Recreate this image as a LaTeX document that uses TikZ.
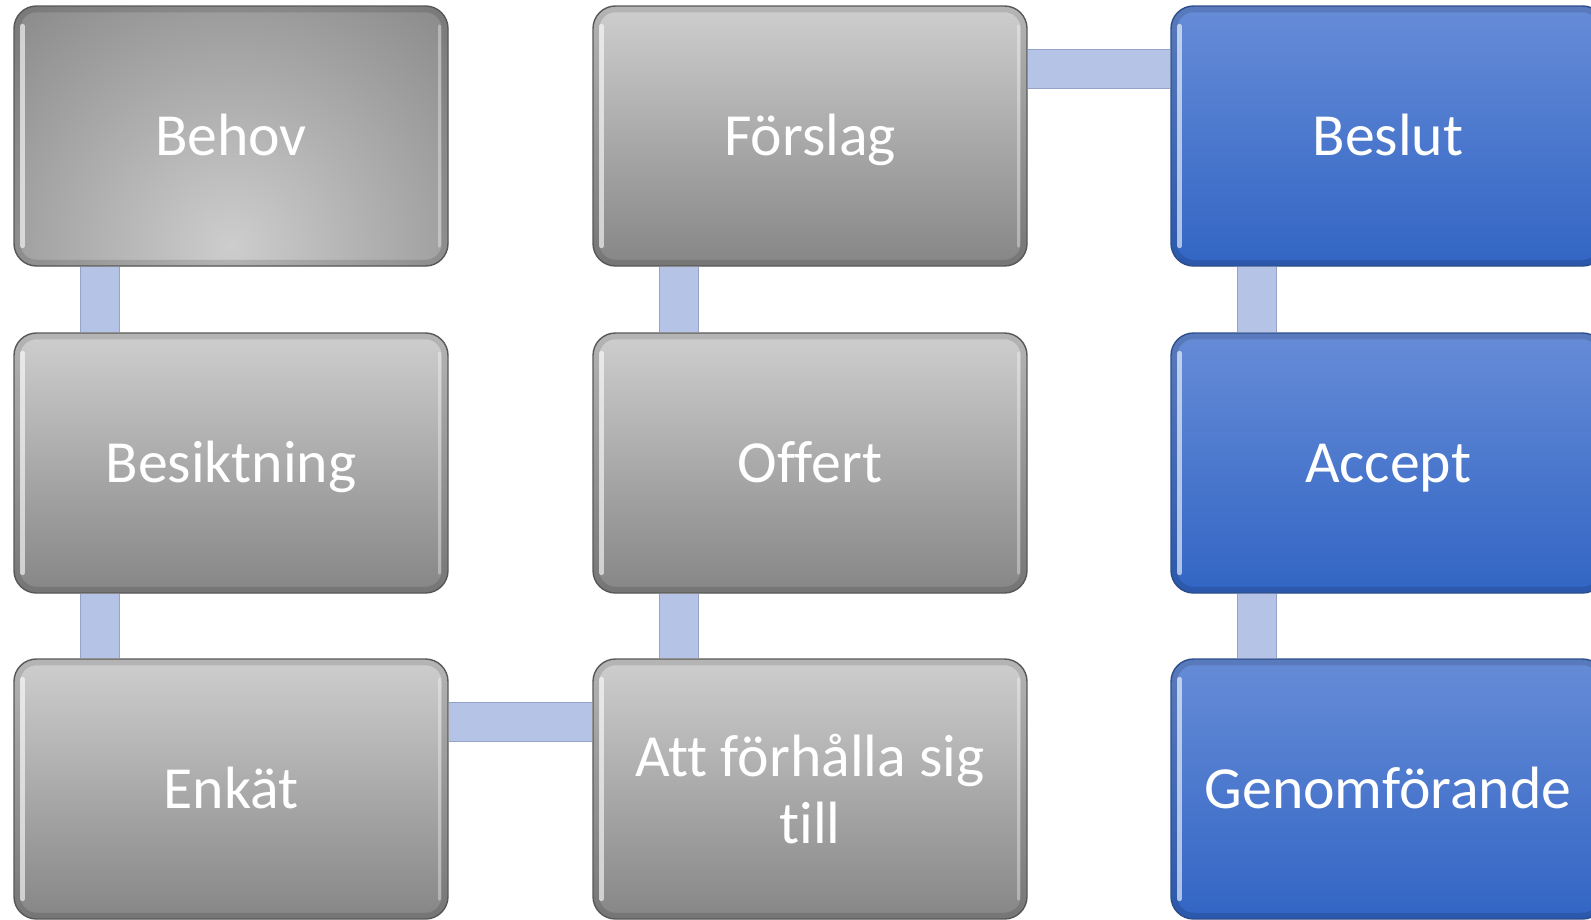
\documentclass[tikz,border=0pt]{standalone}
\usepackage{fontspec}
\setmainfont{Carlito}[Ligatures={NoCommon,NoContextual,NoRare}]
\usepackage{tikz}
\usetikzlibrary{backgrounds}
\definecolor{grytop}{RGB}{206,206,206}
\definecolor{grybot}{RGB}{134,134,134}
\definecolor{gryedge}{RGB}{88,88,88}
\definecolor{behovin}{RGB}{205,205,205}
\definecolor{behovout}{RGB}{96,96,96}
\definecolor{blutop}{RGB}{102,140,215}
\definecolor{blubot}{RGB}{50,101,196}
\definecolor{bluedge}{RGB}{44,78,140}
\definecolor{linkfill}{RGB}{180,195,230}
\definecolor{linkedge}{RGB}{150,163,200}

\newcommand{\bevelhl}{%
	\draw[black, opacity=0.12, line width=0.25cm, rounded corners=0.45cm] (path picture bounding box.south west) rectangle (path picture bounding box.north east);
	\draw[white, opacity=0.6, line width=2.5pt, line cap=round] ([shift={(0.17cm,-0.4cm)}]path picture bounding box.north west) -- ([shift={(0.17cm,0.4cm)}]path picture bounding box.south west);
	\draw[white, opacity=0.35, line width=2pt, line cap=round] ([shift={(-0.17cm,-0.4cm)}]path picture bounding box.north east) -- ([shift={(-0.17cm,0.4cm)}]path picture bounding box.south east);}

\tikzset{
	stepbox/.style={rectangle, rounded corners=0.45cm, minimum width=8.68cm, minimum height=5.2cm, line width=0.8pt, text=white, align=center, font=\fontsize{34}{37.6}\selectfont, text height=21.8pt, text depth=0pt},
	grybox/.style={stepbox, draw=gryedge, top color=grytop, bottom color=grybot, path picture={\bevelhl}},
	blubox/.style={stepbox, draw=bluedge, top color=blutop, bottom color=blubot, path picture={\bevelhl}},
	behovbox/.style={stepbox, draw=gryedge, fill=behovout, path picture={\shade[inner color=behovin, outer color=behovout] ([yshift=0.4cm]path picture bounding box.south) circle (10.5cm); \bevelhl}},
	link/.style={draw=linkedge, line width=0.6pt, double=linkfill, double distance=0.76cm},
}

\begin{document}
\begin{tikzpicture}
	\useasboundingbox (0,0) rectangle (31.82,-18.38);

	\node[behovbox] (behov) at (4.62,-2.72) {Behov};
	\node[grybox] (besikt) at (4.62,-9.26) {Besiktning};
	\node[grybox] (enkat) at (4.62,-15.78) {Enkät};
	\node[grybox] (forslag) at (16.2,-2.72) {Förslag};
	\node[grybox] (offert) at (16.2,-9.26) {Of{}fert};
	\node[grybox, text height={}, text depth={}] (forhalla) at (16.2,-15.78) {At{}t förhålla sig\\til{}l};
	\node[blubox] (beslut) at (27.76,-2.72) {Beslut};
	\node[blubox] (accept) at (27.76,-9.26) {Accept};
	\node[blubox] (genomf) at (27.76,-15.78) {Genomförande};

	% connectors behind the boxes
	\begin{scope}[on background layer]
		\draw[link] ([xshift=1.74cm]behov.south west) -- ([xshift=1.74cm]besikt.north west);
		\draw[link] ([xshift=1.74cm]besikt.south west) -- ([xshift=1.74cm]enkat.north west);
		\draw[link] ([yshift=-1.27cm]enkat.north east) -- ([yshift=-1.27cm]forhalla.north west);
		\draw[link] ([xshift=1.74cm]forhalla.north west) -- ([xshift=1.74cm]offert.south west);
		\draw[link] ([xshift=1.74cm]offert.north west) -- ([xshift=1.74cm]forslag.south west);
		\draw[link] ([yshift=-1.27cm]forslag.north east) -- ([yshift=-1.27cm]beslut.north west);
		\draw[link] ([xshift=1.74cm]beslut.south west) -- ([xshift=1.74cm]accept.north west);
		\draw[link] ([xshift=1.74cm]accept.south west) -- ([xshift=1.74cm]genomf.north west);
	\end{scope}
\end{tikzpicture}
\end{document}
